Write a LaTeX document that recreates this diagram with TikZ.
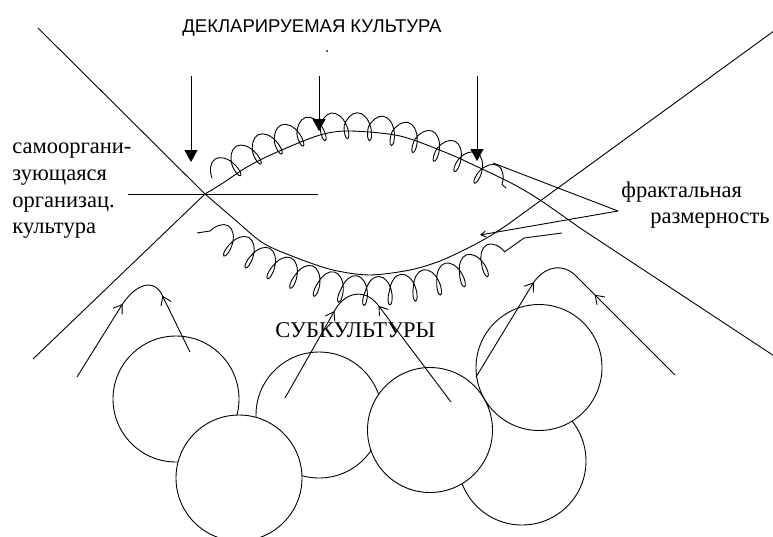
\documentclass[tikz,border=0pt]{standalone}
\usepackage{fontspec}
\setmainfont{Liberation Serif}
\newfontfamily\headfont{Liberation Sans}
\usetikzlibrary{arrows.meta,decorations.pathmorphing,decorations.markings}
\begin{document}
\begin{tikzpicture}[x=1pt,y=-1pt,line width=0.9pt,
  downarrow/.style={-{Triangle[length=12pt,width=13pt]}},
  chain/.style={decorate,decoration={coil,amplitude=14pt,segment length=24pt,aspect=0.5}},
  ring/.style={draw,line width=0.9pt},
  ringfill/.style={fill=white},
  lab/.style={font=\fontsize{22.5}{26}\selectfont,inner sep=0pt,anchor=base west},
  headlab/.style={font=\headfont\fontsize{18.5}{21}\selectfont,inner sep=0pt,anchor=base west},
  upflow/.style n args={2}{postaction={decorate,decoration={markings,
      mark=at position #1 with {\arrow{Straight Barb[length=8pt,width=11pt]}},
      mark=at position #2 with {\arrowreversed{Straight Barb[length=8pt,width=11pt]}}}}}
]
\useasboundingbox (0,0) rectangle (773,536);
\clip (0,0) rectangle (773,536);

% title
\node[headlab] (title) at (182,32) {ДЕКЛАРИРУЕМАЯ КУЛЬТУРА};
\fill (327,51) circle (1pt);

% down arrows
\coordinate (a1s) at (191,76); \coordinate (a1e) at (191,162);
\coordinate (a2s) at (319,76); \coordinate (a2e) at (319,131);
\coordinate (a3s) at (477,76); \coordinate (a3e) at (477,161);
\draw[downarrow] (a1s) -- (a1e);
\draw[downarrow] (a2s) -- (a2e);
\draw[downarrow] (a3s) -- (a3e);

% crossing lines / eye
\coordinate (cross) at (205,194);
\draw (38,28) -- plot[smooth] coordinates {(205,194) (233,218) (263,243) (297,258) (333,270) (370,275) (410,270) (440,261) (470,247) (490,236) (507,225)} -- (800,12);
\draw (33,359) -- plot[smooth] coordinates {(205,194) (223,183) (247,167) (277,152) (320,135) (350,131) (400,136) (447,153) (480,168) (513,184) (540,200) (580,228)} -- (800,373);
\draw (128,194) -- (318,194);

% loop chains
\coordinate (u0) at (212,178); \coordinate (u1) at (352,127); \coordinate (u2) at (506,188);
\draw[chain] (u0) .. controls (258,147) and (305,125) .. (u1) .. controls (405,129) and (460,156) .. (u2);
\coordinate (t0) at (197,233); \coordinate (w0) at (210,231);
\coordinate (w1) at (375,290); \coordinate (w2) at (524,238); \coordinate (w3) at (562,233);
\draw (t0) -- (w0);
\draw[chain] (w0) .. controls (262,263) and (320,291) .. (w1) .. controls (435,289) and (490,262) .. (w2);
\draw (w2) -- (w3);

% fractal dimension pointers
\coordinate (fr) at (618,211);
\coordinate (p1) at (493,163); \coordinate (p2) at (480,235);
\draw (fr) -- (p1);
\draw[-{Straight Barb[length=5pt,width=6pt]}] (fr) -- (p2);

% circles
\draw[ring] (176,399) circle (63);
\draw[ring] (319,415) circle (63);
\draw[ring] (522,461) circle (64);
\fill[ringfill] (239,478) circle (63);
\fill[ringfill] (430,430) circle (62.5);
\fill[ringfill] (539,367.5) circle (63);
\draw[ring] (239,478) circle (63);
\draw[ring] (430,430) circle (62.5);
\draw[ring] (539,367.5) circle (63);

% flow arrows
\draw[upflow={86pt}{138pt}] (77,377) -- (120,308) .. controls (135,283) and (155,277) .. (163,297) -- (190,352);
\draw[upflow={100pt}{155pt}] (285,398) -- (335,310) .. controls (345,292) and (365,288) .. (378,305) -- (451,402);
\draw[upflow={111pt}{187pt}] (476,377) -- (532,285) .. controls (542,268) and (562,260) .. (578,278) -- (675,375);

% labels
\node[lab] (l1) at (12,153) {самооргани-};
\node[lab] (l2) at (12,180) {зующаяся};
\node[lab] (l3) at (12,207) {организац.};
\node[lab] (l4) at (12,233) {культура};
\node[lab] (f1) at (621,197) {фрактальная};
\node[lab] (f2) at (650,223) {размерность};
\node[lab] (sub) at (275,337) {СУБКУЛЬТУРЫ};
\end{tikzpicture}
\end{document}
